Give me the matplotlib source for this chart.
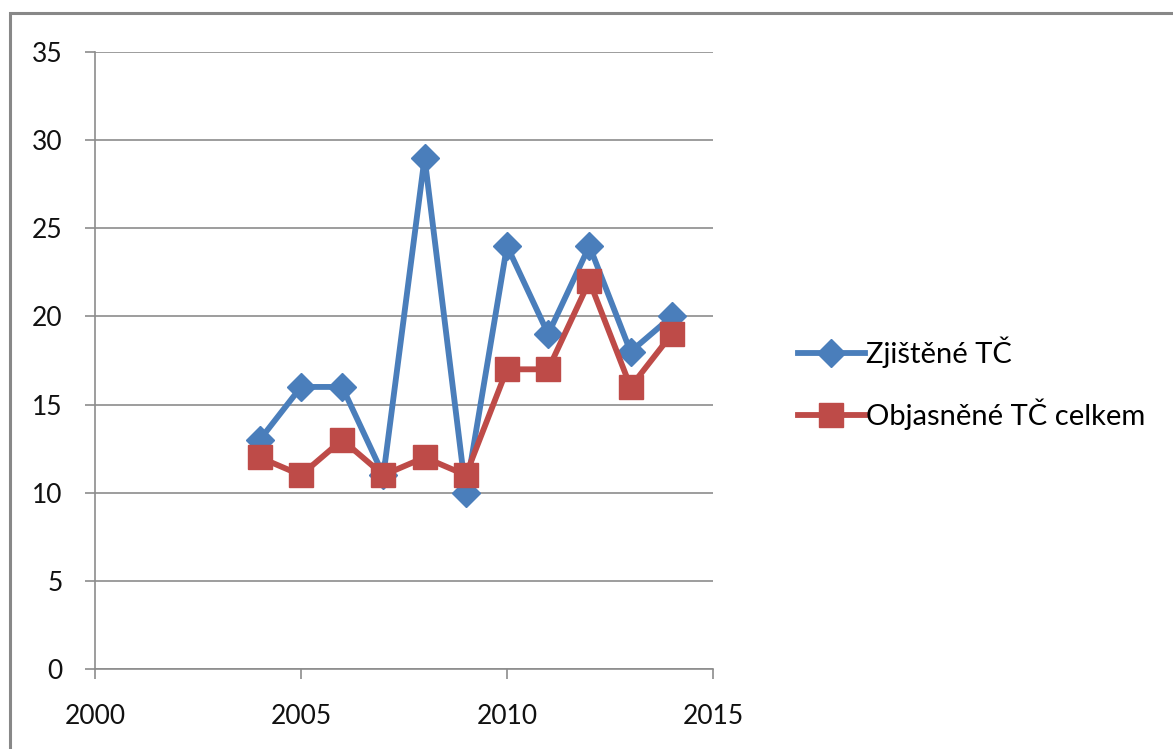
import matplotlib

matplotlib.use("Agg")
import matplotlib.pyplot as plt
from matplotlib.patches import Rectangle

years = [2004, 2005, 2006, 2007, 2008, 2009, 2010, 2011, 2012, 2013, 2014]
zjistene = [13, 16, 16, 11, 29, 10, 24, 19, 24, 18, 20]
objasnene = [12, 11, 13, 11, 12, 11, 17, 17, 22, 16, 19]
x_ticks = [2000, 2005, 2010, 2015]
y_ticks = [0, 5, 10, 15, 20, 25, 30, 35]

BLUE = "#4a7ebb"
RED = "#be4b48"

plt.rcParams["font.family"] = ["Lato", "DejaVu Sans"]

fig = plt.figure(figsize=(11.73, 7.49), dpi=100)
fig.add_artist(Rectangle((10 / 1173, -0.1), 1.2, 1.1 - 13 / 749,
                         transform=fig.transFigure, facecolor="none",
                         edgecolor="#888888", linewidth=2.2))

ax = fig.add_axes([95 / 1173, 1 - 669 / 749, (713 - 95) / 1173, (669 - 52) / 749])

ax.plot(years, zjistene, color=BLUE, linewidth=4.2, marker="D", markersize=14,
        label="Zjištěné TČ", zorder=3)
ax.plot(years, objasnene, color=RED, linewidth=4.2, marker="s", markersize=17,
        label="Objasněné TČ celkem", zorder=4)

ax.set_xlim(2000, 2015)
ax.set_ylim(0, 35)
ax.set_xticks(x_ticks)
ax.set_yticks(y_ticks)
ax.grid(True, axis="y", color="#8c8c8c", linewidth=1.2)
ax.set_axisbelow(True)
for side in ("top", "right"):
    ax.spines[side].set_visible(False)
for side in ("left", "bottom"):
    ax.spines[side].set_color("#8c8c8c")
    ax.spines[side].set_linewidth(1.2)
ax.tick_params(axis="both", colors="#8c8c8c", labelcolor="#111111",
               labelsize=19, length=7.5, width=1.2)
ax.tick_params(axis="x", pad=17.5)
ax.tick_params(axis="y", pad=16)

ax.legend(loc="center left", bbox_to_anchor=(1.118, 0.463), frameon=False,
          fontsize=21, handlelength=2.3, handletextpad=0.05, labelspacing=1.05,
          borderaxespad=0)

fig.savefig("out.png", dpi=100)
